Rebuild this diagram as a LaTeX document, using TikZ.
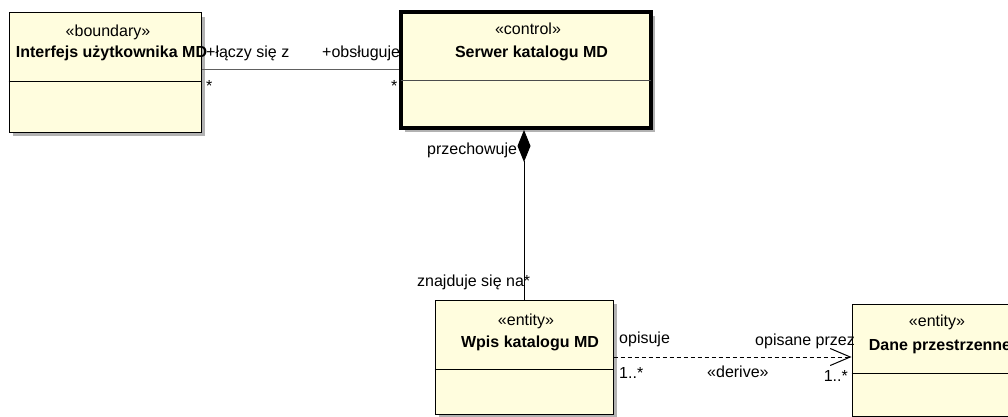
\documentclass[tikz,border=0pt]{standalone}
\usepackage{fontspec}
\setmainfont{Liberation Sans}
\usetikzlibrary{arrows.meta,shadows}
\definecolor{clsfill}{RGB}{255,253,222}
\definecolor{assoccol}{RGB}{96,96,96}
\begin{document}
\begin{tikzpicture}[x=1pt,y=-1pt,
  cls/.style={draw=black, line width=1pt, fill=clsfill, rectangle, inner sep=0pt,
    drop shadow={shadow xshift=4pt,shadow yshift=-4pt,fill=black!30,opacity=1}},
  txt/.style={font=\fontsize{16}{19}\selectfont, inner sep=0pt, anchor=base},
  bold/.style={txt, font=\fontsize{16}{19}\selectfont\bfseries},
  divider/.style={draw=black, line width=1pt},
  conn/.style={draw=black, line width=1pt}
]
\useasboundingbox (0,0) rectangle (1008,417);
\clip (0,0) rectangle (1008,417);

% classes
\node[cls, minimum width=192pt, minimum height=119pt] (ui) at (105,72.5) {};
\node[cls, line width=4pt, minimum width=250pt, minimum height=116pt] (srv) at (526,70) {};
\node[cls, minimum width=178pt, minimum height=114pt] (wpis) at (524,357) {};
\node[cls, minimum width=170pt, minimum height=112pt] (dane) at (937,360) {};

% compartments
\draw[divider] (ui.west |- 0,82) -- (ui.east |- 0,82);
\draw[divider, draw=black!70] ([xshift=2pt]srv.west |- 0,81) -- ([xshift=-2pt]srv.east |- 0,81);
\draw[divider] (wpis.west |- 0,369) -- (wpis.east |- 0,369);
\draw[divider] (dane.west |- 0,373) -- (dane.east |- 0,373);

% class texts
\node[txt] (uiSt) at (108,37) {«boundary»};
\node[bold] (uiName) at (111.5,58) {Interfejs użytkownika MD};
\node[txt] (srvSt) at (528,35) {«control»};
\node[bold] (srvName) at (531.5,57.5) {Serwer katalogu MD};
\node[txt] (wpisSt) at (526,325) {«entity»};
\node[bold] (wpisName) at (530,347) {Wpis katalogu MD};
\node[txt] (daneSt) at (937,326) {«entity»};
\node[bold] (daneName) at (940,350) {Dane przestrzenne};

% association
\draw[conn, draw=assoccol] (ui.east |- srv.west) -- (srv.west);
\node[txt, anchor=base west] (lA) at (206,58) {+łączy się z};
\node[txt, anchor=base west] (lB) at (322,58) {+obsługuje};
\node[txt, anchor=base west] (mA) at (206,92) {*};
\node[txt, anchor=base west] (mB) at (391,92) {*};

% composition
\draw[conn, -{Diamond[length=32pt,width=13pt]}] (wpis.north) -- (wpis.north |- srv.south);
\node[txt, anchor=base west] (lC) at (427,154) {przechowuje};
\node[txt, anchor=base west] (lD) at (417,286) {znajduje się na*};

% dependency
\draw[conn, dash pattern=on 4pt off 3pt, -{Straight Barb[length=20pt,width=17pt]}] (wpis.east) -- (wpis.east -| dane.west);
\node[txt, anchor=base west] (lE) at (619,343) {opisuje};
\node[txt, anchor=base west] (mC) at (619,378) {1..*};
\node[txt, anchor=base west] (lF) at (707,377) {«derive»};
\node[txt, anchor=base west] (lG) at (755,345) {opisane przez};
\node[txt, anchor=base east] (mD) at (848,381) {1..*};
\end{tikzpicture}
\end{document}
